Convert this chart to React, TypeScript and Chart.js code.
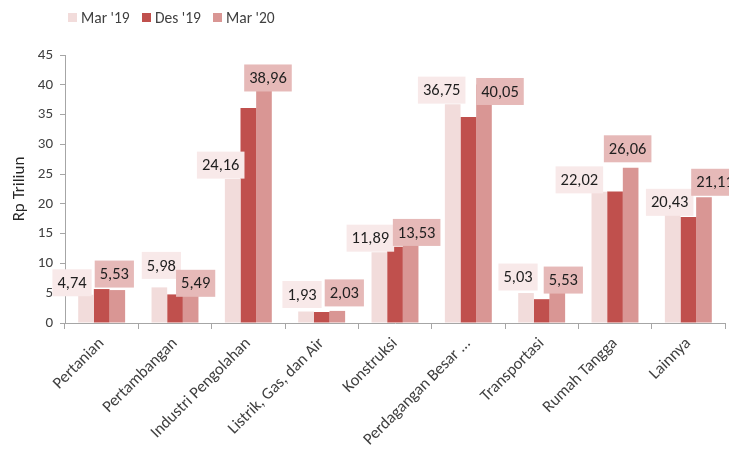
import React, { useEffect, useRef } from "react";
import { Chart, registerables } from "chart.js";

Chart.register(...registerables);

const categories = [
  "Pertanian",
  "Pertambangan",
  "Industri Pengolahan",
  "Listrik, Gas, dan Air",
  "Konstruksi",
  "Perdagangan Besar ...",
  "Transportasi",
  "Rumah Tangga",
  "Lainnya",
];
const seriesNames = ["Mar '19", "Des '19", "Mar '20"];
const mar19 = [4.74, 5.98, 24.16, 1.93, 11.89, 36.75, 5.03, 22.02, 20.43];
const des19 = [5.7, 4.8, 36.1, 1.85, 12.8, 34.6, 4.0, 22.1, 17.8];
const mar20 = [5.53, 5.49, 38.96, 2.03, 13.53, 40.05, 5.53, 26.06, 21.11];
const yTicksMax = 45;
const yStep = 5;

// manual label nudges (as placed in the original), relative to bar centre / bar top
const nudgeX19 = [-14, 2, -12, -4, -9, -11, -8, -20, -3];
const nudgeY19 = [-12, -22, -14, -17, -14, -14, -16, -12, 1];
const nudgeX20 = [-3, 5, 4, 7, 6, 16, 6, -3, 11];
const nudgeY20 = [-16, -7, -13, -18, -10, 7, -10, -19, -15];

const barColors = ["#f2dcdb", "#c0504d", "#d99694"];
const labelBg = ["#f8e9e9", null, "#e6b9b8"];
const FONT = "Carlito, Calibri, Lato, 'Open Sans', sans-serif";

const labelPlugin = {
  id: "boxLabels",
  afterDatasetsDraw(chart: any) {
    const ctx = chart.ctx;
    ctx.save();
    ctx.font = `16.5px ${FONT}`;
    ctx.textBaseline = "middle";
    ctx.textAlign = "center";
    chart.data.datasets.forEach((ds: any, di: number) => {
      if (!labelBg[di]) return;
      const nx = di === 0 ? nudgeX19 : nudgeX20;
      const ny = di === 0 ? nudgeY19 : nudgeY20;
      const meta = chart.getDatasetMeta(di);
      meta.data.forEach((bar: any, i: number) => {
        const v = ds.data[i];
        const text = v.toFixed(2).replace(".", ",");
        const w = ctx.measureText(text).width + 10;
        const h = 27;
        const cx = bar.x + nx[i];
        const cy = bar.y + ny[i];
        ctx.fillStyle = labelBg[di] as string;
        ctx.fillRect(cx - w / 2, cy - h / 2, w, h);
        ctx.fillStyle = "#1f1f1f";
        ctx.fillText(text, cx, cy + 1);
      });
    });
    ctx.restore();
  },
};

export default function App() {
  const ref = useRef<HTMLCanvasElement | null>(null);
  useEffect(() => {
    document.body.style.margin = "0";
    const chart = new Chart(ref.current as HTMLCanvasElement, {
      type: "bar",
      data: {
        labels: categories,
        datasets: [mar19, des19, mar20].map((d, i) => ({
          label: seriesNames[i],
          data: d,
          backgroundColor: barColors[i],
          borderWidth: 0,
          categoryPercentage: 0.64,
          barPercentage: 1.0,
        })),
      },
      options: {
        responsive: false,
        animation: false,
        devicePixelRatio: 1,
        layout: { padding: { top: 55, right: 4, left: 0, bottom: 0 } },
        plugins: {
          legend: { display: false },
          tooltip: { enabled: false },
        },
        scales: {
          x: {
            grid: {
              display: true,
              drawOnChartArea: false,
              offset: true,
              tickLength: 6,
              color: "#a6a6a6",
            },
            border: { color: "#a6a6a6" },
            ticks: {
              minRotation: 45,
              maxRotation: 45,
              autoSkip: false,
              color: "#404040",
              font: { family: FONT, size: 16.5 },
              padding: 5,
            },
            afterFit(scale: any) {
              scale.height = 127;
            },
          },
          y: {
            min: 0,
            max: yTicksMax,
            ticks: {
              stepSize: yStep,
              color: "#404040",
              font: { family: FONT, size: 15 },
              padding: 7,
            },
            grid: {
              display: true,
              drawOnChartArea: false,
              tickLength: 5,
              color: "#a6a6a6",
            },
            border: { color: "#a6a6a6" },
            title: {
              display: true,
              text: "Rp Triliun",
              color: "#262626",
              font: { family: FONT, size: 17 },
              padding: { top: 10, bottom: 0 },
            },
            afterFit(scale: any) {
              scale.width = 65;
            },
          },
        },
      },
      plugins: [labelPlugin],
    });
    return () => chart.destroy();
  }, []);

  const legendItem = (i: number, left: number) => (
    <div
      key={i}
      style={{
        position: "absolute",
        left,
        top: 8,
        display: "flex",
        alignItems: "center",
        fontFamily: FONT,
        fontSize: 15.5,
        color: "#404040",
        whiteSpace: "nowrap",
      }}
    >
      <span
        style={{
          display: "inline-block",
          width: 9,
          height: 9,
          background: barColors[i],
          marginRight: 4,
        }}
      />
      {seriesNames[i]}
    </div>
  );

  return (
    <div style={{ position: "relative", width: 729, height: 450 }}>
      <canvas ref={ref} width={729} height={450} />
      {legendItem(0, 68)}
      {legendItem(1, 142)}
      {legendItem(2, 213)}
    </div>
  );
}
